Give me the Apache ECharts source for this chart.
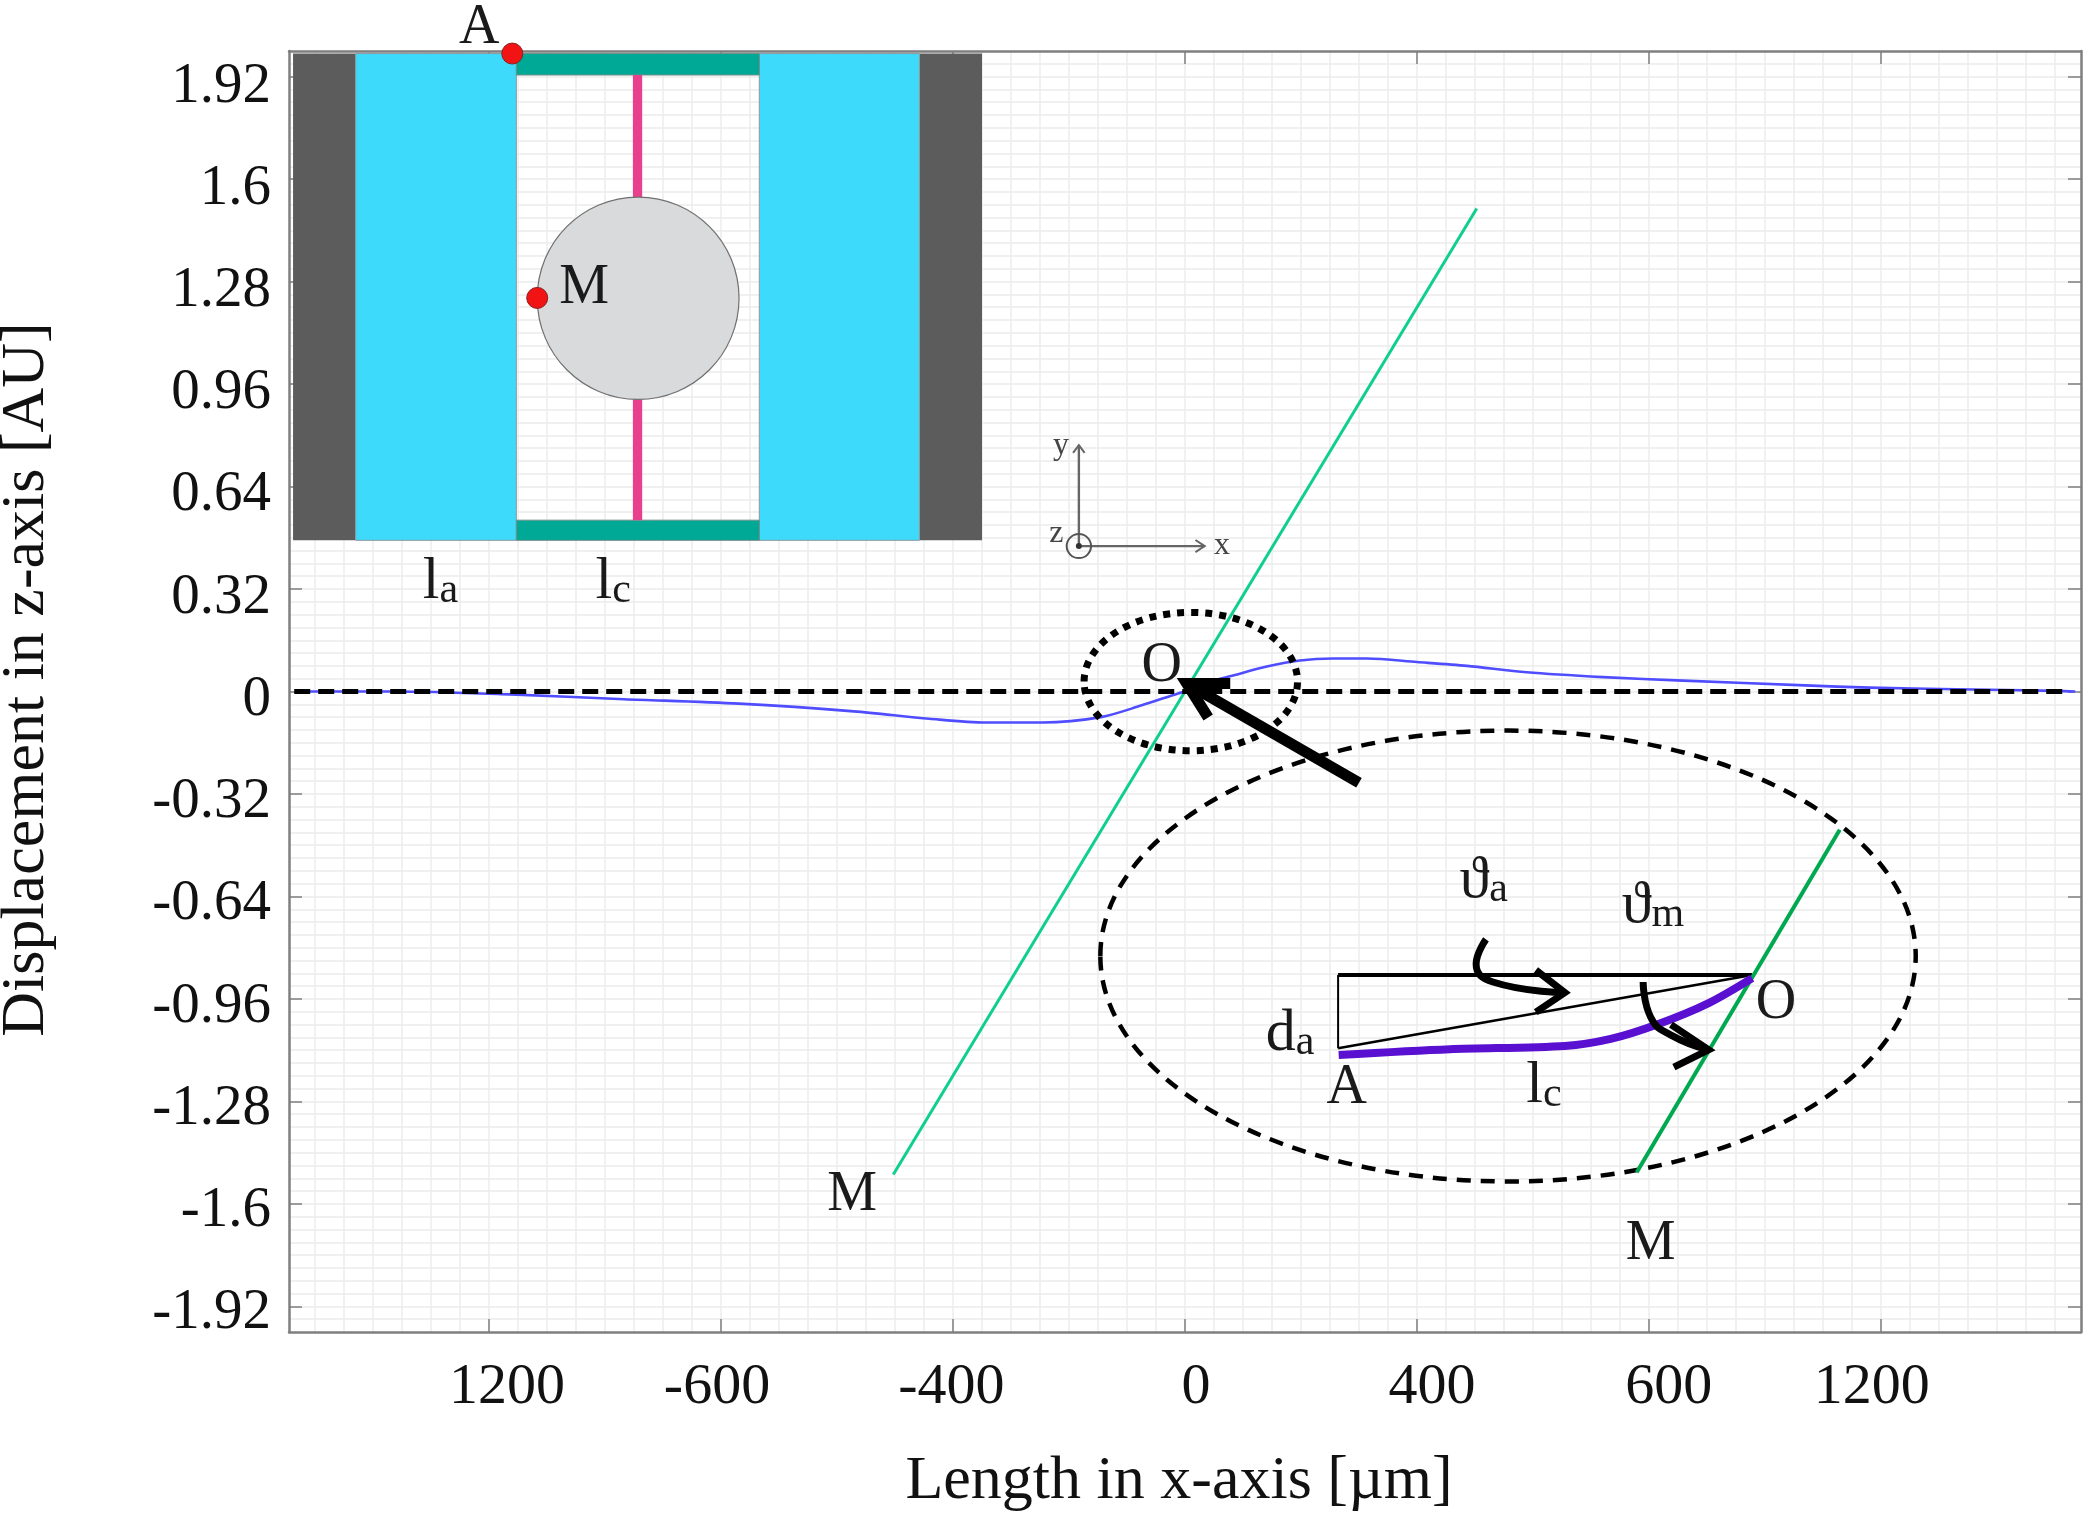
<!DOCTYPE html>
<html><head><meta charset="utf-8">
<style>html,body{margin:0;padding:0;background:#fff}#c{width:2091px;height:1516px}</style>
<script src="https://cdn.jsdelivr.net/npm/echarts@6/dist/echarts.min.js"></script></head>
<body><div id="c"></div>
<script>
// axis content
const xTickValues=[-1200,-800,-400,0,400,800,1200];
const xTickLabels=['1200','-600','-400','0','400','600','1200'];
const xLabelAnchors=[-1169,-807,-403,19,426,834,1184];
const yTickValues=[-1.92,-1.6,-1.28,-0.96,-0.64,-0.32,0,0.32,0.64,0.96,1.28,1.6,1.92];
const yTickLabels=['-1.92','-1.6','-1.28','-0.96','-0.64','-0.32','0','0.32','0.64','0.96','1.28','1.6','1.92'];
const yLabelAnchors=[-1.941,-1.622,-1.303,-0.984,-0.664,-0.345,-0.026,0.293,0.612,0.932,1.251,1.57,1.889];
// main curves
const membraneCurve=[[-1526,0],[-1362,0],[-1164,-0.009],[-967,-0.024],[-769,-0.038],[-571,-0.062],[-441,-0.085],[-343,-0.097],[-245,-0.097],[-145,-0.08],[-76,-0.044],[-12,-0.006],[0,0],[38,0.028],[83,0.05],[141,0.078],[198,0.097],[255,0.103],[314,0.103],[400,0.092],[486,0.08],[589,0.06],[721,0.045],[859,0.034],[1069,0.019],[1181,0.012],[1329,0.007],[1503,0.002],[1535,0]];
const mirrorLine=[[-503,-1.508],[503,1.508]];
const zeroLine=[[-1536,0],[1525,0]];
// inset schematic blocks: [x0,y0,x1,y1]
const darkBlocks=[[-1538,1.992,-1430,0.472],[-458,1.992,-350,0.472]];
const cyanBlocks=[[-1430,1.992,-1153,0.472],[-734,1.992,-458,0.472]];
const tealBlocks=[[-1153,1.992,-734,1.925],[-1153,0.535,-734,0.472]];
const pinkBars=[[-952,1.925,-936,0.535]];
const massDisc=[[-943,1.228,174,0.316]];
const redPoints=[[-1160,1.992],[-1117,1.229]];
// ellipses: [cx,cy,rx,ry]
const detailEllipse=[[557,-0.826,703,0.704]];
const zoomEllipse=[[10,0.031,184,0.216]];
// triad
const triadUp=[[-183,0.454],[-183,0.769]];
const triadUpHead=[[-193,0.745],[-183,0.769],[-173,0.745]];
const triadRight=[[-183,0.454],[34,0.454]];
const triadRightHead=[[18,0.473],[34,0.454],[18,0.435]];
const triadRing=[[-183,0.454,21,0.0375]];
const triadDot=[[-183,0.454]];
// pointer
const pointerShaft=[[300,-0.285],[3,0.025]];
const pointerHead=[[78,0.025],[3,0.025],[40,-0.081]];
// detail view
const refHorizontal=[[264,-0.885],[978,-0.885]];
const refVertical=[[264,-0.885],[264,-1.114]];
const refChord=[[264,-1.114],[978,-0.885]];
const detailBeam=[[265,-1.135],[457,-1.117],[655,-1.107],[734,-1.085],[814,-1.04],[903,-0.973],[978,-0.895]];
const detailMirror=[[779,-1.501],[1129,-0.432]];
const thetaACurve=[[519,-0.774],[502,-0.851],[531,-0.907],[655,-0.94]];
const thetaAHead=[[605,-0.87],[655,-0.94],[605,-1.001]];
const thetaMCurve=[[790,-0.907],[803,-1.017],[838,-1.073],[903,-1.119]];
const thetaMHead=[[838,-1.04],[903,-1.119],[843,-1.173]];
// annotations: [text, x, y, size]
const bigLabels=[['A',-1217,2.072],['M',-1036,1.26],['O',-40,0.08],['M',-574,-1.572],['A',279,-1.24],['O',1019,-0.975],['M',803,-1.725]];
const subLabels=[['l','a',-1284,0.341],['l','c',-986,0.341],['ϑ','a',515,-0.591],['ϑ','m',807,-0.671],['d','a',181,-1.07],['l','c',619,-1.232]];
const triadLabels=[['y',-214,0.769],['z',-222,0.494],['x',64,0.457]];

const FONT='"Liberation Serif"';
const XR=[-1545,1545],YR=[-2,2];
const minorX=[];for(let v=-1500;v<=1500;v+=50)minorX.push(v);
const minorY=[];for(let i=-49;i<=49;i++)minorY.push(+(i*0.04).toFixed(2));

const chart=echarts.init(document.getElementById('c'),null,{renderer:'canvas'});
const AX={color:'#7f7f7f',width:2.5};
function lineS(data,color,width,opts){
  return Object.assign({type:'line',data,symbol:'none',clip:false,silent:true,animation:false,
    lineStyle:Object.assign({color,width,cap:'butt',join:'miter'},opts&&opts.ls||{}),smooth:opts&&opts.smooth||false,z:opts&&opts.z||5},{});
}
function rects(data,color,z,stroke){
  return {type:'custom',data,clip:false,silent:true,animation:false,z,coordinateSystem:'cartesian2d',
    encode:{x:0,y:1},
    renderItem(p,api){
      const a=api.coord([api.value(0),api.value(1)]),b=api.coord([api.value(2),api.value(3)]);
      return {type:'rect',shape:{x:a[0],y:a[1],width:b[0]-a[0],height:b[1]-a[1]},style:{fill:color,stroke:stroke||null,lineWidth:stroke?1:0}};
    }};
}
function ellipse(data,style,z){
  return {type:'custom',data,clip:false,silent:true,animation:false,z,encode:{x:0,y:1},
    renderItem(p,api){
      const c=api.coord([api.value(0),api.value(1)]),e=api.coord([api.value(0)+api.value(2),api.value(1)+api.value(3)]);
      return {type:'ellipse',shape:{cx:c[0],cy:c[1],rx:e[0]-c[0],ry:c[1]-e[1]},style};
    }};
}
function texts(data,size,color,sub){
  return {type:'custom',data:data.map(d=>d.length===4?[d[2],d[3],d[0],d[1]]:[d[1],d[2],d[0],'']),clip:false,silent:true,animation:false,z:20,encode:{x:0,y:1},
    renderItem(p,api){
      const c=api.coord([api.value(0),api.value(1)]);
      const d=data[p.dataIndex];
      const s=d.length===4
        ?{text:'{m|'+d[0]+'}{s|'+d[1]+'}',rich:{m:{fontSize:size,fontFamily:FONT,fill:color,color:color,verticalAlign:'bottom'},s:{fontSize:sub,fontFamily:FONT,fill:color,color:color,verticalAlign:'bottom'}}}
        :{text:d[0],fontSize:size,fontFamily:FONT,fill:color};
      return {type:'text',x:c[0],y:c[1],style:Object.assign({align:'center',verticalAlign:'middle'},s)};
    }};
}
const option={
  backgroundColor:'#fff',animation:false,
  grid:{left:289,right:10,top:51,bottom:184,containLabel:false,outerBoundsMode:'none'},
  xAxis:[
    {type:'value',min:XR[0],max:XR[1],position:'bottom',name:'Length in x-axis [µm]',nameLocation:'middle',nameGap:119,
     nameTextStyle:{fontSize:62,fontFamily:FONT,color:'#111',padding:[0,12,0,0]},
     axisLine:{show:true,onZero:false,lineStyle:AX},axisTick:{show:true,inside:true,length:13,customValues:xTickValues,lineStyle:{color:'#7f7f7f',width:1.5}},
     axisLabel:{show:true,customValues:xLabelAnchors,margin:27,fontSize:58,fontFamily:FONT,color:'#111',formatter:(v)=>xTickLabels[xLabelAnchors.indexOf(v)]},splitLine:{show:false}},
    {type:'value',min:XR[0],max:XR[1],position:'top',axisLine:{show:true,onZero:false,lineStyle:AX},axisTick:{show:true,inside:true,length:13,customValues:xTickValues,lineStyle:{color:'#7f7f7f',width:1.5}},axisLabel:{show:false},splitLine:{show:false}},
    {type:'value',min:XR[0],max:XR[1],position:'bottom',axisLine:{show:false},axisTick:{show:false,customValues:minorX},axisLabel:{show:false},splitLine:{show:true,lineStyle:{color:'#ececec',width:1.5}}}
  ],
  yAxis:[
    {type:'value',min:YR[0],max:YR[1],position:'left',name:'Displacement in z-axis [AU]',nameLocation:'middle',nameGap:231,nameRotate:90,
     nameTextStyle:{fontSize:62,fontFamily:FONT,color:'#111',padding:[0,0,0,24]},
     axisLine:{show:true,onZero:false,lineStyle:AX},axisTick:{show:true,inside:true,length:13,customValues:yTickValues,lineStyle:{color:'#7f7f7f',width:1.5}},
     axisLabel:{show:true,customValues:yLabelAnchors,margin:18,fontSize:57,fontFamily:FONT,color:'#111',formatter:(v)=>yTickLabels[yLabelAnchors.indexOf(v)]},splitLine:{show:false}},
    {type:'value',min:YR[0],max:YR[1],position:'right',axisLine:{show:true,onZero:false,lineStyle:AX},axisTick:{show:true,inside:true,length:13,customValues:yTickValues,lineStyle:{color:'#7f7f7f',width:1.5}},axisLabel:{show:false},splitLine:{show:false}},
    {type:'value',min:YR[0],max:YR[1],position:'left',axisLine:{show:false},axisTick:{show:false,customValues:minorY},axisLabel:{show:false},splitLine:{show:true,lineStyle:{color:'#f0f0f0',width:2}}}
  ],
  series:[
    rects(darkBlocks,'#5c5c5c',2),
    rects(cyanBlocks,'#3ddafb',2,'#8a9aa0'),
    rects(tealBlocks,'#00a896',3,'#6f8f8a'),
    rects(pinkBars,'#e8408c',3),
    ellipse(massDisc,{fill:'#d8dadb',stroke:'#707070',lineWidth:1.2},4),
    {type:'scatter',data:redPoints,symbol:'circle',symbolSize:21,clip:false,silent:true,z:12,animation:false,itemStyle:{color:'#f21414',borderColor:'#8a2020',borderWidth:1,opacity:1}},
    lineS(mirrorLine,'#0fcf8c',3),
    lineS(membraneCurve,'#4f4dff',2.6,{smooth:0.3}),
    lineS(zeroLine,'#000',5,{ls:{type:[16,8]},z:6}),
    ellipse(detailEllipse,{fill:null,stroke:'#000',lineWidth:4.5,lineDash:[14,10]},7),
    ellipse(zoomEllipse,{fill:null,stroke:'#000',lineWidth:7,lineDash:[7,7]},7),
    lineS(triadUp,'#666',2.4),lineS(triadUpHead,'#666',2),lineS(triadRight,'#666',2.4),lineS(triadRightHead,'#666',2),
    ellipse(triadRing,{fill:null,stroke:'#555',lineWidth:2},7),
    {type:'scatter',data:triadDot,symbol:'circle',symbolSize:6,silent:true,z:8,animation:false,itemStyle:{color:'#333',opacity:1}},
    lineS(pointerShaft,'#000',11,{z:9}),lineS(pointerHead,'#000',11,{z:9}),
    lineS(refHorizontal,'#000',4,{z:8}),lineS(refVertical,'#000',2,{z:8}),lineS(refChord,'#000',2.6,{z:8}),
    lineS(detailMirror,'#00a850',4,{z:8}),
    lineS(detailBeam,'#5a10d0',8,{smooth:0.3,z:9}),
    lineS(thetaACurve,'#000',7,{smooth:0.5,z:9}),lineS(thetaAHead,'#000',7,{z:9}),
    lineS(thetaMCurve,'#000',7,{smooth:0.5,z:9}),lineS(thetaMHead,'#000',7,{z:9}),
    texts(bigLabels,56,'#1a1a1a'),
    texts(subLabels,60,'#1a1a1a',42),
    texts(triadLabels,32,'#444')
  ]
};
option.series.forEach(s=>{s.xAxisIndex=0;s.yAxisIndex=0;});
chart.setOption(option);
</script></body></html>
